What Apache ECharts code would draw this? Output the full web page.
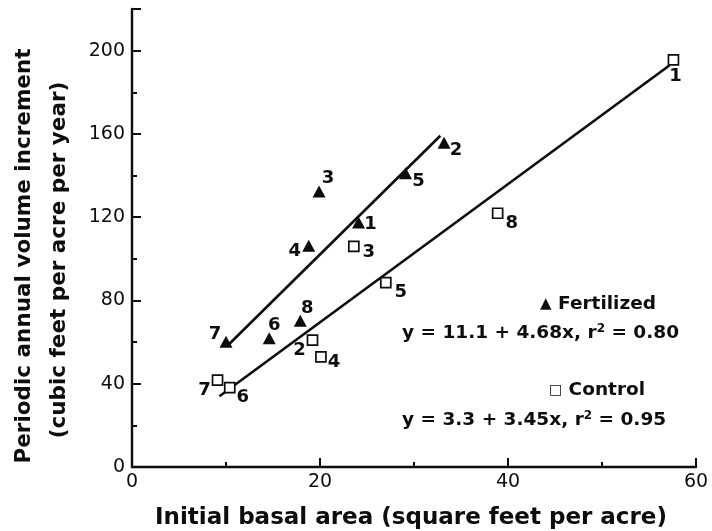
<!DOCTYPE html>
<html><head><meta charset="utf-8">
<script src="https://cdn.jsdelivr.net/npm/echarts@6/dist/echarts.min.js"></script>
<style>html,body{margin:0;padding:0;background:#fff}#c{width:712px;height:531px}</style>
</head><body><div id="c"></div>
<script>
// ---- data ----
const fertIds = ['1','2','3','4','5','6','7','8'];
const fertX = [24.1, 33.2, 19.9, 18.8, 29.1, 14.6, 10.0, 17.9];
const fertY = [117.4, 155.8, 132.3, 106.3, 141.1, 61.9, 60.2, 70.3];
const ctrlIds = ['1','2','3','4','5','6','7','8'];
const ctrlX = [57.6, 19.2, 23.6, 20.1, 27.0, 10.4, 9.1, 38.9];
const ctrlY = [195.6, 60.9, 106.0, 52.9, 88.6, 38.1, 41.7, 121.9];
const fertFitX = [10.1, 32.8];
const fertFitY = [58.0, 159.1];
const ctrlFitX = [9.3, 57.2];
const ctrlFitY = [34.0, 193.0];
const xTickLabels = [0, 20, 40, 60];
const yTickLabels = [0, 40, 80, 120, 160, 200];
const xTitle = 'Initial basal area (square feet per acre)';
const yTitle1 = 'Periodic annual volume increment';
const yTitle2 = '(cubic feet per acre per year)';
const fertName = 'Fertilized';
const ctrlName = 'Control';
const fertEq = 'y = 11.1 + 4.68x, r{sup|2} = 0.80';
const ctrlEq = 'y = 3.3 + 3.45x, r{sup|2} = 0.95';

// ---- layout (label offsets in px) ----
const fertLabelOffset = [[12,2],[12,8],[9,-13],[-14,6],[13,8],[5,-13],[-11,-7],[7,-12]];
const ctrlLabelOffset = [[2,17],[-13,10],[15,6],[13,5],[15,10],[13,10],[-13,10],[14,10]];

const INK = '#0d0d0d';
const ptLabelFont = {fontFamily: 'DejaVu Sans', fontWeight: 'bold', fontSize: 18, color: INK};
const eqRich = {sup: {fontFamily: 'DejaVu Sans', fontWeight: 'bold', fontSize: 12, fill: INK, verticalAlign: 'top', padding: [0, 0, 9, 0]}};

function pts(xs, ys, ids, offs) {
  return xs.map((x, i) => ({
    value: [x, ys[i]],
    label: {show: true, formatter: ids[i], position: 'inside', offset: offs[i], ...ptLabelFont}
  }));
}
function line(xs, ys) { return xs.map((x, i) => [x, ys[i]]); }

const chart = echarts.init(document.getElementById('c'), null, {renderer: 'canvas'});
chart.setOption({
  backgroundColor: '#fff',
  animation: false,
  grid: {left: 132, right: 16, top: 9, bottom: 64},
  xAxis: {
    type: 'value', min: 0, max: 60, interval: 20,
    axisLine: {show: true, lineStyle: {color: INK, width: 2.4}},
    axisTick: {show: true, inside: true, length: 9, lineStyle: {color: INK, width: 2}},
    minorTick: {show: true, splitNumber: 2, length: 5, lineStyle: {color: INK, width: 2}},
    splitLine: {show: false},
    axisLabel: {
      margin: 6, fontFamily: 'DejaVu Sans', fontSize: 19, color: INK,
      formatter: v => xTickLabels.includes(v) ? String(v) : ''
    }
  },
  yAxis: {
    type: 'value', min: 0, max: 220, interval: 40,
    axisLine: {show: true, lineStyle: {color: INK, width: 2.4}},
    axisTick: {show: true, inside: true, length: 9, lineStyle: {color: INK, width: 2}},
    minorTick: {show: true, splitNumber: 2, length: 5, lineStyle: {color: INK, width: 2}},
    splitLine: {show: false},
    axisLabel: {
      margin: 7, fontFamily: 'DejaVu Sans', fontSize: 19, color: INK,
      formatter: v => yTickLabels.includes(v) ? String(v) : ''
    }
  },
  series: [
    {type: 'line', data: line(fertFitX, fertFitY), symbol: 'none', z: 1,
     lineStyle: {color: INK, width: 2.6}},
    {type: 'line', data: line(ctrlFitX, ctrlFitY), symbol: 'none', z: 1,
     lineStyle: {color: INK, width: 2.6}},
    {type: 'scatter', name: fertName, symbol: 'triangle', symbolSize: [13, 12], z: 3,
     itemStyle: {color: INK, opacity: 1}, data: pts(fertX, fertY, fertIds, fertLabelOffset)},
    {type: 'scatter', name: ctrlName, symbol: 'rect', symbolSize: [10, 10], z: 3,
     itemStyle: {color: '#fff', borderColor: INK, borderWidth: 1.7, opacity: 1},
     data: pts(ctrlX, ctrlY, ctrlIds, ctrlLabelOffset)}
  ],
  graphic: [
    {type: 'text', x: 411, y: 518, z: 10,
     style: {text: xTitle, fontFamily: 'DejaVu Sans', fontWeight: 'bold', fontSize: 23, fill: INK,
             align: 'center', verticalAlign: 'middle'}},
    {type: 'text', x: 24, y: 256, rotation: Math.PI / 2, z: 10,
     style: {text: yTitle1, fontFamily: 'DejaVu Sans', fontWeight: 'bold', fontSize: 21.5, fill: INK,
             align: 'center', verticalAlign: 'middle'}},
    {type: 'text', x: 59, y: 260, rotation: Math.PI / 2, z: 10,
     style: {text: yTitle2, fontFamily: 'DejaVu Sans', fontWeight: 'bold', fontSize: 21.5, fill: INK,
             align: 'center', verticalAlign: 'middle'}},
    {type: 'text', x: 598, y: 304, z: 10,
     style: {text: '{s|▲} ' + fertName, fontFamily: 'DejaVu Sans', fontWeight: 'bold', fontSize: 18.5, fill: INK,
             align: 'center', verticalAlign: 'middle',
             rich: {s: {fontSize: 15, fontFamily: 'DejaVu Sans', fill: INK}}}},
    {type: 'text', x: 402, y: 333, z: 10,
     style: {text: fertEq, fontFamily: 'DejaVu Sans', fontWeight: 'bold', fontSize: 18.5, fill: INK,
             align: 'left', verticalAlign: 'middle', rich: eqRich}},
    {type: 'text', x: 597, y: 390, z: 10,
     style: {text: '{s|□} ' + ctrlName, fontFamily: 'DejaVu Sans', fontWeight: 'bold', fontSize: 18.5, fill: INK,
             align: 'center', verticalAlign: 'middle',
             rich: {s: {fontSize: 14, fontFamily: 'DejaVu Sans', fill: INK}}}},
    {type: 'text', x: 402, y: 420, z: 10,
     style: {text: ctrlEq, fontFamily: 'DejaVu Sans', fontWeight: 'bold', fontSize: 18.5, fill: INK,
             align: 'left', verticalAlign: 'middle', rich: eqRich}}
  ]
});
</script>
</body></html>
